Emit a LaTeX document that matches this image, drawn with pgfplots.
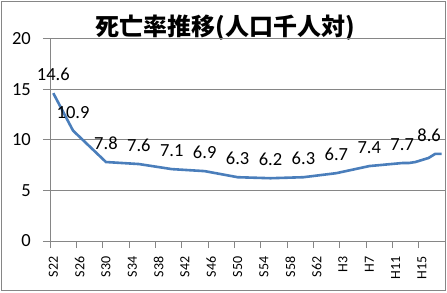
\documentclass[border=0pt]{standalone}
\usepackage{fontspec}
\setmainfont{Carlito}
\newfontfamily\cjk{Noto Sans CJK JP}
\usepackage{pgfplots}
\pgfplotsset{compat=1.18}
\definecolor{linec}{HTML}{4A7EBB}
\definecolor{axc}{HTML}{868686}
\begin{document}
\begin{tikzpicture}
\useasboundingbox (0,0) rectangle (447bp,293bp);
\draw[axc, line width=1bp] (1.5bp,2bp) rectangle (445.5bp,291.5bp);
\node[font={\cjk\bfseries\fontsize{24bp}{28bp}\selectfont}, inner sep=0pt] at (225.5bp,265bp) {死亡率推移(人口千人対)};
\begin{axis}[
  at={(50bp,52bp)}, anchor=south west,
  scale only axis, width=395bp, height=202.5bp,
  clip=false,
  xmin=-0.5, xmax=59.5, ymin=0, ymax=20,
  axis lines*=left,
  axis line style={axc, line width=0.8bp},
  /pgf/number format/assume math mode=true,
  xtick={0,4,...,56},
  xticklabels={S22,S26,S30,S34,S38,S42,S46,S50,S54,S58,S62,H3,H7,H11,H15},
  minor xtick={-0.5,3.5,...,55.5},
  ytick={0,5,...,20},
  minor ytick={0,5,...,20},
  major tick length=0pt,
  minor tick length=7bp,
  tick style={axc, line width=0.8bp},
  tick align=outside,
  ymajorgrids,
  major grid style={axc, line width=0.8bp},
  xticklabel style={rotate=90, anchor=east, inner sep=0pt, font=\fontsize{14bp}{16bp}\selectfont},
  xticklabel shift=15.5bp,
  yticklabel style={anchor=east, inner sep=0pt, font=\fontsize{18.5bp}{20bp}\selectfont},
  yticklabel shift=19bp,
  every node near coord/.append style={anchor=center, yshift=18.5bp, font=\fontsize{18.5bp}{20bp}\selectfont, inner sep=0pt},
]
\addplot[linec, line width=2.6bp, mark=none] coordinates {
 (0,14.6) (3,10.9) (8,7.8) (13,7.6) (18,7.1) (23,6.9) (28,6.3) (33,6.2) (38,6.3) (43,6.7) (48,7.4) (53,7.7) (54,7.7) (55,7.8) (56,8.0) (57,8.2) (58,8.6) (59,8.6)
};
\addplot[draw=none, mark=none, point meta=y,
  nodes near coords={\pgfmathprintnumber[fixed,fixed zerofill,precision=1]{\pgfplotspointmeta}}] coordinates {
 (0,14.6) (3,10.9) (8,7.8) (13,7.6) (18,7.1) (23,6.9) (28,6.3) (33,6.2) (38,6.3) (43,6.7) (48,7.4) (53,7.7)
};
\addplot[draw=none, mark=none, point meta=y,
  every node near coord/.append style={xshift=-6bp},
  nodes near coords={\pgfmathprintnumber[fixed,fixed zerofill,precision=1]{\pgfplotspointmeta}}] coordinates {
 (58,8.6)
};
\end{axis}
\end{tikzpicture}
\end{document}
